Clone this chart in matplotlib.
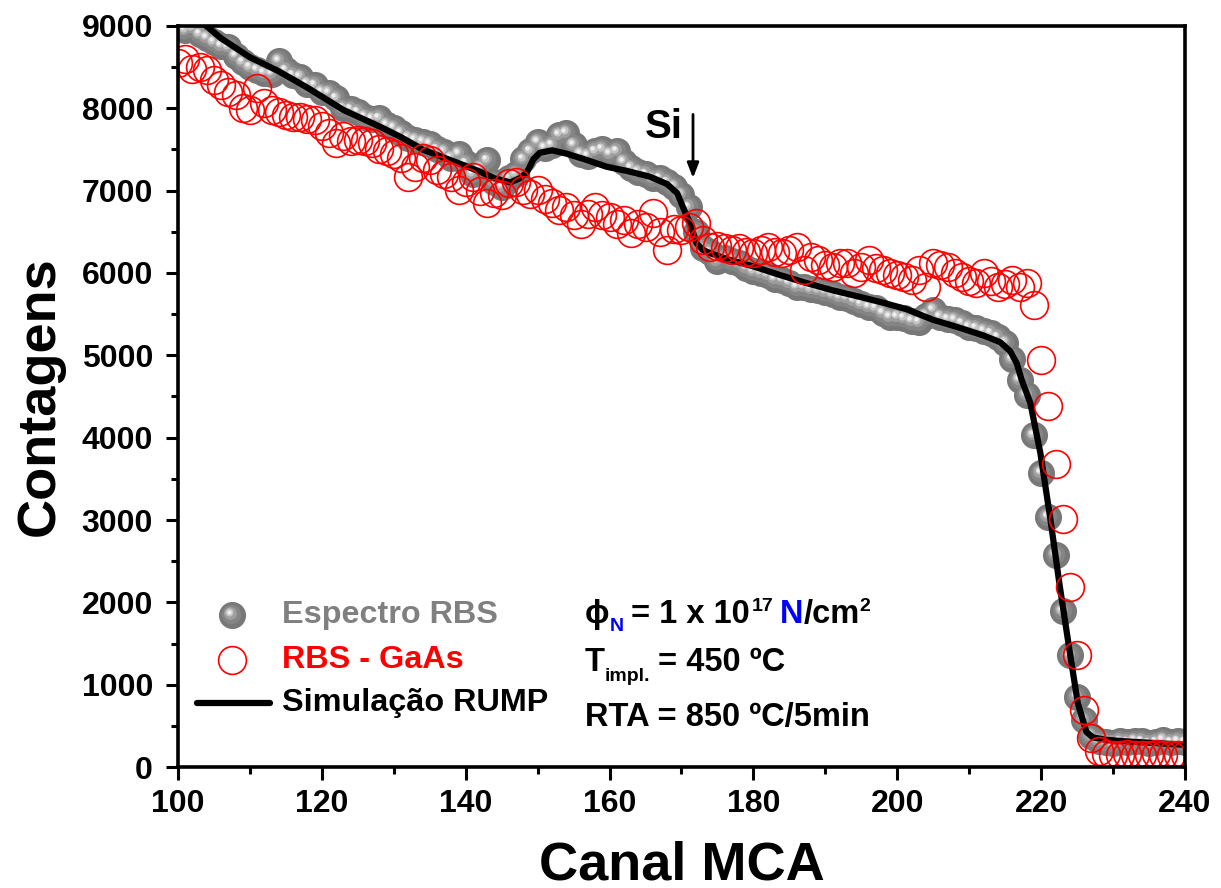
import numpy as np
import matplotlib
matplotlib.use('Agg')
import matplotlib.pyplot as plt
from matplotlib import transforms
from matplotlib.ticker import MultipleLocator

plt.rcParams['font.family'] = ['Liberation Sans', 'DejaVu Sans']
plt.rcParams['font.weight'] = 'bold'

# ---- data ----
canal = list(range(100, 241))

espectro_rbs = [
    8980, 8950, 8970, 8900, 8860, 8800, 8760, 8740, 8640, 8560,   # 100-109
    8500, 8470, 8430, 8420, 8580, 8460, 8400, 8380, 8300, 8280,   # 110-119
    8200, 8190, 8120, 8000, 7990, 7950, 7900, 7870, 7880, 7800,   # 120-129
    7760, 7700, 7640, 7620, 7590, 7570, 7500, 7470, 7400, 7450,   # 130-139
    7330, 7200, 7280, 7370, 7100, 7050, 7150, 7200, 7380, 7480,   # 140-149
    7590, 7520, 7550, 7680, 7700, 7560, 7450, 7420, 7480, 7500,   # 150-159
    7450, 7480, 7350, 7280, 7230, 7200, 7150, 7150, 7100, 7050,   # 160-169
    6950, 6800, 6500, 6300, 6250, 6150, 6180, 6150, 6120, 6060,   # 170-179
    6020, 6000, 5980, 5930, 5920, 5880, 5830, 5830, 5800, 5790,   # 180-189
    5770, 5740, 5710, 5700, 5660, 5620, 5590, 5570, 5520, 5470,   # 190-199
    5470, 5450, 5420, 5400, 5480, 5550, 5470, 5440, 5430, 5390,   # 200-209
    5350, 5330, 5300, 5270, 5220, 5150, 4950, 4700, 4520, 4030,   # 210-219
    3570, 3040, 2580, 1890, 1360, 850, 570, 380, 320, 300,        # 220-229
    290, 310, 300, 320, 310, 290, 300, 330, 300, 310,             # 230-239
    300]                                                          # 240

rbs_gaas = [
    8550, 8600, 8480, 8500, 8470, 8350, 8280, 8200, 8160, 8000,   # 100-109
    7980, 8250, 8060, 7980, 7950, 7920, 7900, 7900, 7870, 7860,   # 110-119
    7780, 7700, 7580, 7660, 7600, 7620, 7600, 7580, 7500, 7480,   # 120-129
    7450, 7400, 7170, 7290, 7400, 7370, 7250, 7200, 7165, 7010,   # 130-139
    7100, 7165, 7000, 6850, 6970, 6950, 7090, 7100, 7010, 6960,   # 140-149
    7010, 6900, 6850, 6765, 6800, 6700, 6600, 6720, 6800, 6700,   # 150-159
    6680, 6600, 6645, 6485, 6600, 6560, 6725, 6500, 6280, 6530,   # 160-169
    6520, 6560, 6605, 6400, 6320, 6330, 6300, 6280, 6300, 6260,   # 170-179
    6240, 6280, 6320, 6260, 6240, 6280, 6320, 6040, 6200, 6160,   # 180-189
    6100, 6075, 6120, 6120, 6000, 6075, 6160, 6060, 6040, 6000,   # 190-199
    5980, 5950, 5915, 6040, 5830, 6120, 6100, 6075, 6000, 5950,   # 200-209
    5900, 5875, 6000, 5900, 5830, 5870, 5915, 5830, 5875, 5610,   # 210-219
    4945, 4390, 3680, 3010, 2190, 1360, 690, 350, 200, 160,       # 220-229
    150, 140, 160, 150, 140, 150, 160, 140, 150, 150,             # 230-239
    150]                                                          # 240

sim_canal = [100, 103, 106, 110, 114, 118, 123, 128, 131, 134, 137, 140,
             142, 144, 146.2, 147.5, 148.5, 149.4, 150.3, 152, 154, 156.9,
             159.6, 162.4, 165.6, 168, 169.4, 170.2, 171.2, 172.1, 173, 174,
             176.7, 180, 183.7, 187.5, 191, 194.8, 198, 201.3, 205, 208.3,
             212, 214.3, 215.7, 216.6, 217.3, 218.5, 219.9, 221.3, 222.6,
             224, 225.1, 226.3, 227.2, 229, 232, 236, 240]
sim_rump = [9280, 9070, 8850, 8620, 8450, 8250, 7980, 7780, 7650, 7500, 7400,
            7300, 7230, 7150, 7100, 7150, 7220, 7380, 7460, 7490, 7450, 7370,
            7290, 7240, 7170, 7080, 6970, 6800, 6600, 6360, 6280, 6240, 6160,
            6080, 5975, 5875, 5790, 5710, 5640, 5560, 5430, 5345, 5240, 5160,
            5050, 4905, 4700, 4420, 3810, 3000, 2190, 1385, 775, 425, 360, 330,
            310, 290, 270]

W, H = 1221, 888
fig = plt.figure(figsize=(W/100., H/100.), dpi=100)
ax = fig.add_axes([178./W, 1-767./H, (1185-178.)/W, (767-26.)/H])

# gray "spheres": base + lighter layers shifted up-left
def spheres(x, y, trans_ax, ms, **kw):
    layers = [(1.0, '#787878', 0), (0.72, '#858585', 1.0),
              (0.48, '#9e9e9e', 2.0), (0.3, '#c4c4c4', 2.6),
              (0.16, '#eeeeee', 3.0)]
    for f, c, d in layers:
        tr = transforms.offset_copy(trans_ax, fig=fig, x=-d, y=d, units='dots')
        ax.plot(x, y, 'o', ms=ms*f, mfc=c, mew=0, transform=tr, **kw)

spheres(canal, espectro_rbs, ax.transData, 19.5)
ax.plot(sim_canal, sim_rump, '-', color='black', lw=4.5, solid_capstyle='round')
ax.plot(canal, rbs_gaas, 'o', ms=20, mfc='none', mec='#ff0000', mew=1.2)

ax.set_xlim(100, 240)
ax.set_ylim(0, 9000)
ax.xaxis.set_major_locator(MultipleLocator(20))
ax.xaxis.set_minor_locator(MultipleLocator(10))
ax.yaxis.set_major_locator(MultipleLocator(1000))
ax.yaxis.set_minor_locator(MultipleLocator(500))
ax.tick_params(which='both', direction='out', width=2.2, top=False, right=False)
ax.tick_params(which='major', length=9, labelsize=23)
ax.tick_params(axis='y', which='major', pad=9)
ax.tick_params(axis='x', which='major', pad=7)
ax.tick_params(which='minor', length=5)
for s in ax.spines.values():
    s.set_linewidth(2.6)
for lab in ax.get_xticklabels() + ax.get_yticklabels():
    lab.set_fontweight('bold')

ax.set_xlabel('Canal MCA', fontsize=39, fontweight='bold', labelpad=15)
ax.set_ylabel('Contagens', fontsize=39, fontweight='bold', labelpad=12)

# Si marker
ax.text(167.6, 7770, 'Si', fontsize=29, fontweight='bold', ha='center', va='center')
ax.annotate('', xy=(171.6, 7120), xytext=(171.6, 7960),
            arrowprops=dict(arrowstyle='-|>,head_width=0.35,head_length=0.9',
                            color='black', lw=2))

# legend drawn by hand (axes fraction from pixel positions)
def fx(px):
    return (px-178.)/1007.

def fy(py):
    return (767.-py)/741.

spheres([fx(232)], [fy(615)], ax.transAxes, 19.5, clip_on=False)
ax.plot([fx(232)], [fy(660)], 'o', ms=20, mfc='none', mec='#ff0000', mew=1.2,
        transform=ax.transAxes, clip_on=False)
ax.plot([fx(197), fx(270)], [fy(703), fy(703)], '-', color='black', lw=4.5,
        solid_capstyle='round', transform=ax.transAxes, clip_on=False)
leg_fs = 23.3
ax.text(fx(282), fy(615), 'Espectro RBS', color='#808080', fontsize=leg_fs,
        fontweight='bold', va='center', transform=ax.transAxes)
ax.text(fx(282), fy(660), 'RBS - GaAs', color='#ff0000', fontsize=leg_fs,
        fontweight='bold', va='center', transform=ax.transAxes)
ax.text(fx(282), fy(703), 'Simulação RUMP', color='black', fontsize=leg_fs,
        fontweight='bold', va='center', transform=ax.transAxes)

# sample conditions, pieces placed one after another
fig.canvas.draw()
renderer = fig.canvas.get_renderer()

def chain(pieces, px0, py0):
    x = px0
    for s, color, size, dy, gap in pieces:
        t = fig.text(x/W, 1-(py0+dy)/H, s, color=color, fontsize=size,
                     fontweight='bold', va='baseline', ha='left',
                     family=['Liberation Sans', 'DejaVu Sans'])
        x += t.get_window_extent(renderer).width + gap

fs = 23.5
chain([('ϕ', 'black', fs, 0, 0),
       ('N', '#0000ff', 14, 8, 7),
       ('= 1 x 10', 'black', fs, 0, 2),
       ('17', 'black', 14, -12, 7),
       ('N', '#0000ff', fs, 0, 0),
       ('/cm', 'black', fs, 0, 0),
       ('2', 'black', 14, -12, 0)], 585, 623)
chain([('T', 'black', fs, 0, 0),
       ('impl.', 'black', 14, 10, 8),
       ('= 450 ºC', 'black', fs, 0, 0)], 585, 671)
chain([('RTA = 850 ºC/5min', 'black', fs, 0, 0)], 585, 726)

fig.savefig('out.png', dpi=100)
plt.close()
